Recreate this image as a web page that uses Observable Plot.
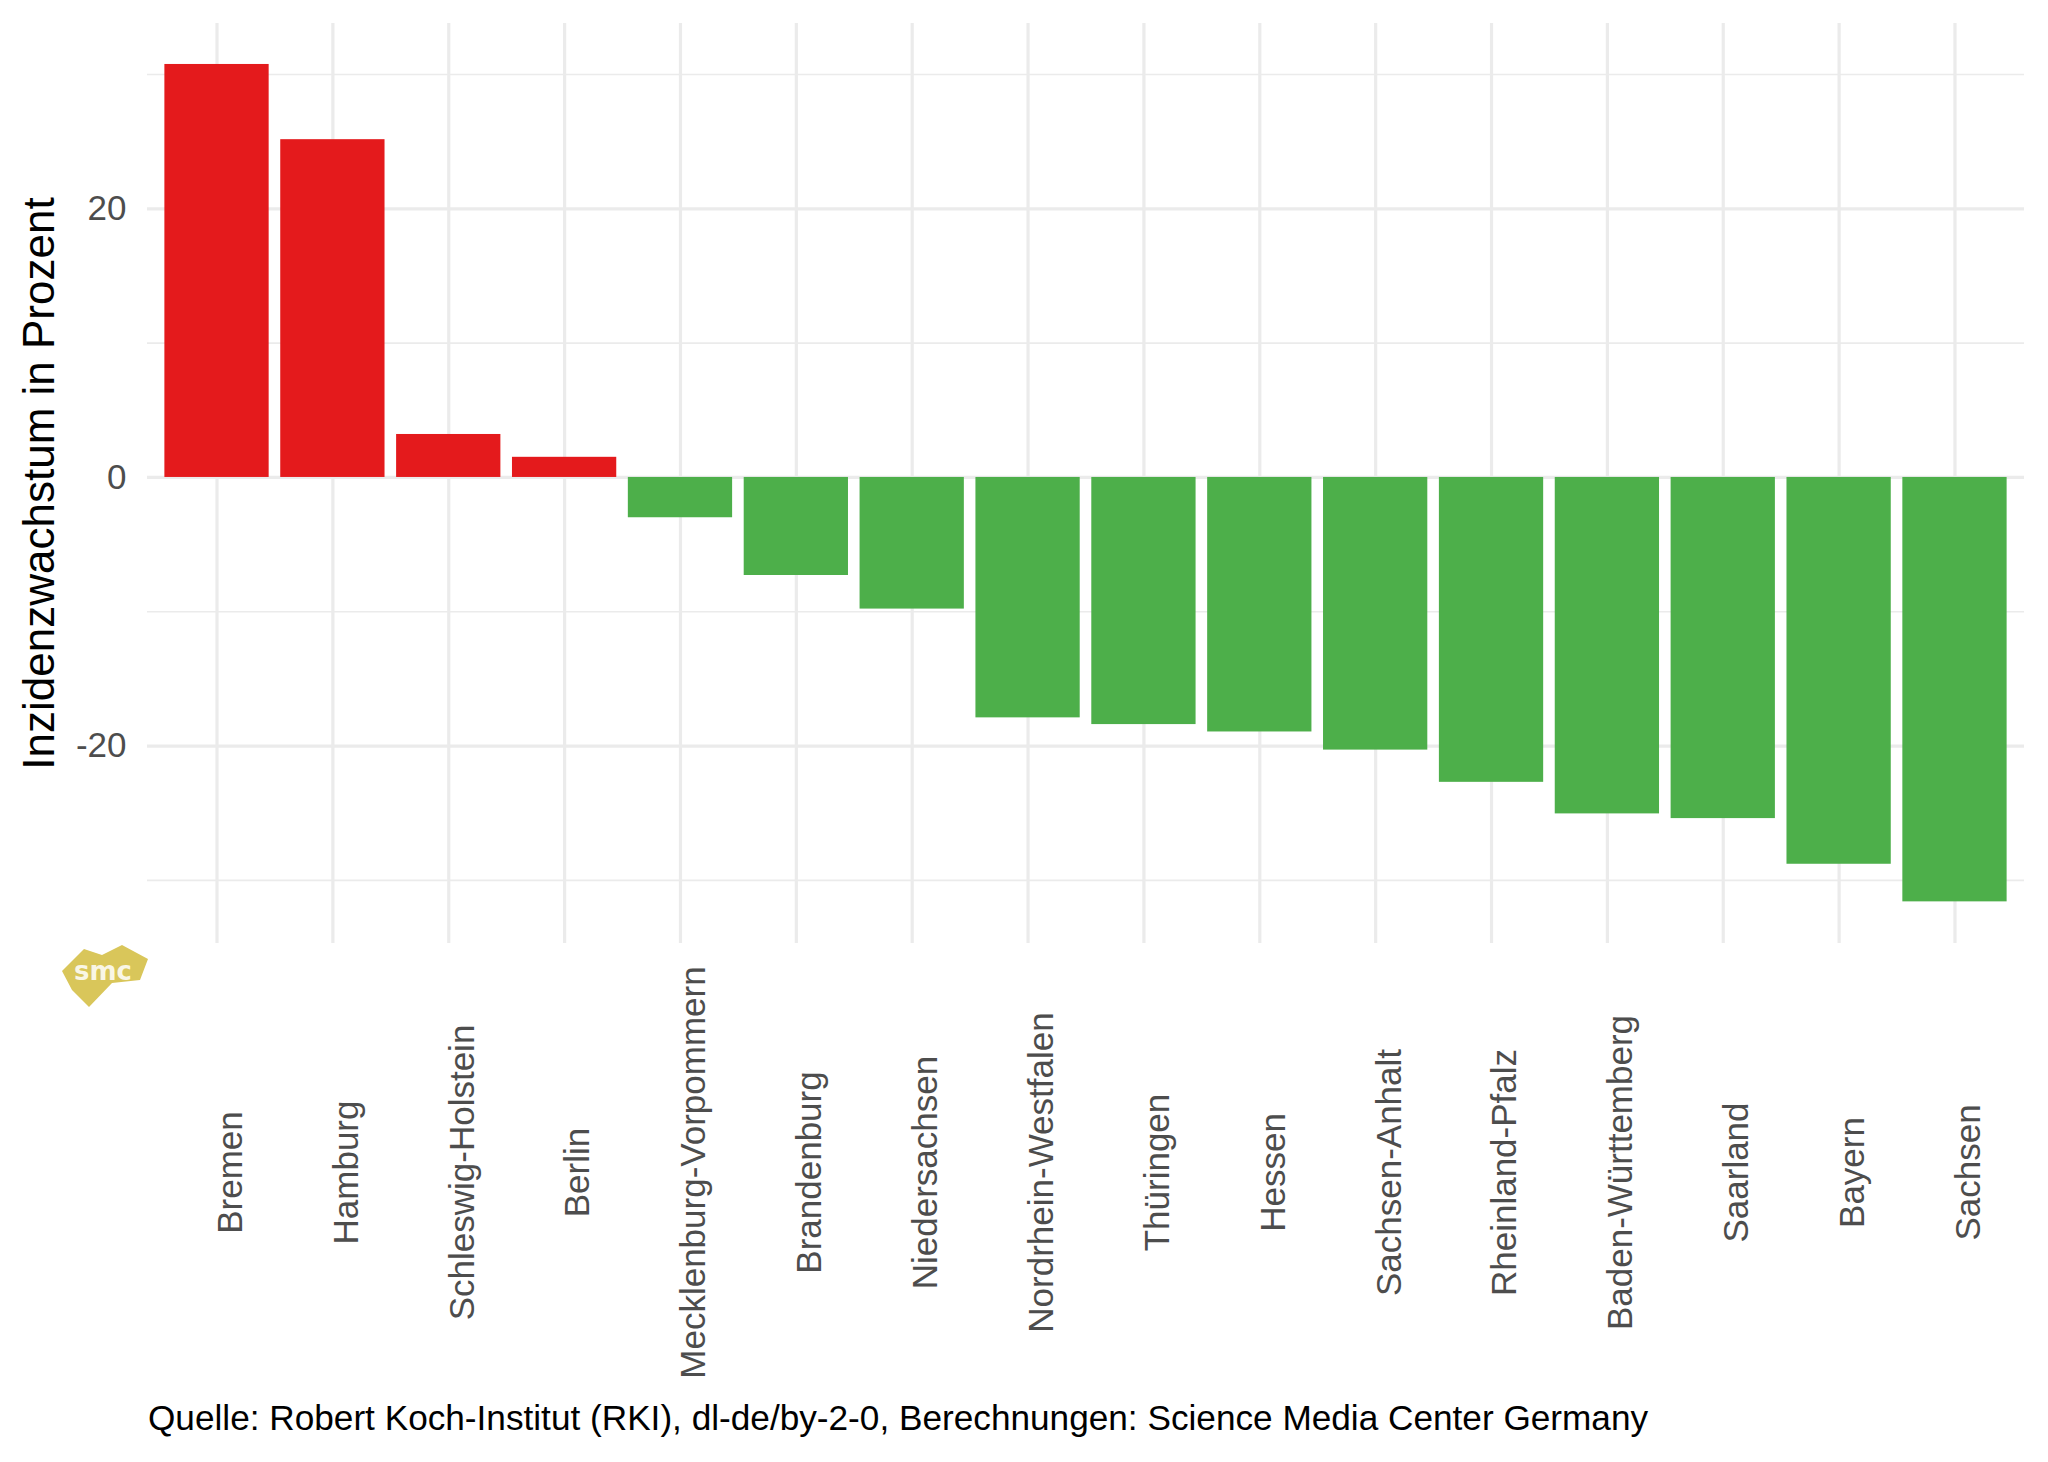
<!DOCTYPE html>
<html><head><meta charset="utf-8">
<script src="https://cdn.jsdelivr.net/npm/d3@7"></script>
<script src="https://cdn.jsdelivr.net/npm/@observablehq/plot@0.6"></script>
<style>
body{margin:0;background:#fff;font-family:"Liberation Sans",Arial,Helvetica,sans-serif;}
#wrap{position:relative;width:2048px;height:1462px;overflow:hidden;background:#fff;}
#chart{position:absolute;left:0;top:0;}
#caption{position:absolute;left:148px;top:1400px;font-size:35.2px;line-height:35px;color:#000;white-space:nowrap;}
#logo{position:absolute;left:57px;top:940px;}
</style></head><body>
<div id="wrap">
<div id="chart"></div>
<div id="caption">Quelle: Robert Koch-Institut (RKI), dl-de/by-2-0, Berechnungen: Science Media Center Germany</div>
<svg id="logo" width="100" height="75" viewBox="0 0 100 75">
  <polygon points="5,31 27,9 45,15 65,5 91,19 83,40 55,43 32,67 15,50" fill="#D9C65A"/>
  <text x="46" y="40" text-anchor="middle" font-family="DejaVu Sans, sans-serif" font-weight="bold" font-size="26" fill="#fff" fill-opacity="0.85">smc</text>
</svg>
</div>
<script>
const states = ["Bremen","Hamburg","Schleswig-Holstein","Berlin","Mecklenburg-Vorpommern","Brandenburg","Niedersachsen","Nordrhein-Westfalen","Thüringen","Hessen","Sachsen-Anhalt","Rheinland-Pfalz","Baden-Württemberg","Saarland","Bayern","Sachsen"];
const values = [30.75, 25.15, 3.2, 1.5, -3.0, -7.3, -9.8, -17.9, -18.4, -18.95, -20.3, -22.7, -25.05, -25.4, -28.8, -31.6];
const majorTicks = [-20, 0, 20];
const minorTicks = [-30, -10, 10, 30];
const yTitle = "Inzidenzwachstum in Prozent";

const data = states.map((s, i) => ({state: s, value: values[i], sign: values[i] >= 0 ? "pos" : "neg"}));

const plot = Plot.plot({
  width: 2048,
  height: 1462,
  marginTop: 23,
  marginBottom: 519,
  marginLeft: 147,
  marginRight: 24,
  style: {fontFamily: "Liberation Sans, Arial, Helvetica, sans-serif", background: "white"},
  x: {domain: states, paddingInner: 0.1, paddingOuter: 0.15, round: false, axis: null},
  y: {domain: [-34.7, 33.8], axis: null},
  color: {domain: ["pos", "neg"], range: ["#E41A1C", "#4DAF4A"]},
  marks: [
    Plot.gridY(minorTicks, {stroke: "#EBEBEB", strokeOpacity: 1, strokeWidth: 1.6}),
    Plot.gridY(majorTicks, {stroke: "#EBEBEB", strokeOpacity: 1, strokeWidth: 3.2}),
    Plot.gridX(states, {stroke: "#EBEBEB", strokeOpacity: 1, strokeWidth: 3.2}),
    Plot.barY(data, {x: "state", y: "value", fill: "sign"}),
    Plot.axisY(majorTicks, {label: null, tickSize: 0, tickPadding: 21, fontSize: 35, fill: "#4D4D4D", tickFormat: d => String(d)}),
    Plot.text(states, {x: d => d, frameAnchor: "bottom", dy: 229, rotate: -90, textAnchor: "middle", lineAnchor: "top", fontSize: 35, fill: "#4D4D4D"}),
    Plot.text([yTitle], {frameAnchor: "left", dx: -125, rotate: -90, textAnchor: "middle", lineAnchor: "top", fontSize: 44, fill: "#000"})
  ]
});
document.getElementById("chart").appendChild(plot);
</script>
</body></html>
